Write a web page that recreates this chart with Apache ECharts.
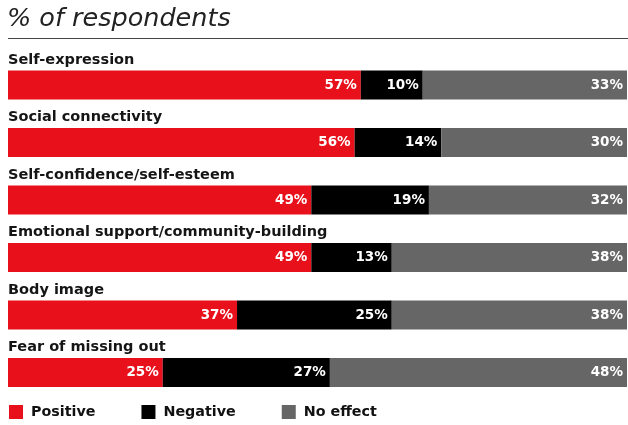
<!DOCTYPE html>
<html><head><meta charset="utf-8">
<script src="https://cdn.jsdelivr.net/npm/echarts@6/dist/echarts.min.js"></script>
<style>html,body{margin:0;padding:0;background:#fff}#c{width:628px;height:425px}</style>
</head><body><div id="c"></div>
<script>
const categories = ['Self-expression','Social connectivity','Self-confidence/self-esteem','Emotional support/community-building','Body image','Fear of missing out'];
const positive = [57,56,49,49,37,25];
const negative = [10,14,19,13,25,27];
const noEffect = [33,30,32,38,38,48];
const seriesNames = ['Positive','Negative','No effect'];
const colors = ['#E8111B','#000000','#666666'];
const FONT = '"DejaVu Sans"';
const chart = echarts.init(document.getElementById('c'));
const lbl = {show:true, position:'insideRight', color:'#fff', fontFamily:FONT, fontWeight:'bold', fontSize:13.5, distance:4, formatter:p=>p.value+'%'};
const mk = (name, data, i) => ({name, type:'bar', stack:'all', data, barWidth:29, itemStyle:{color:colors[i]}, label:lbl, emphasis:{disabled:true}});
chart.setOption({
  animation:false,
  graphic:[
    {type:'text', left:7, top:6, style:{text:'% of respondents', font:'italic 200 25.5px '+FONT, fill:'#222'}},
    {type:'line', shape:{x1:8,y1:38.5,x2:628,y2:38.5}, style:{stroke:'#444', lineWidth:1}}
  ],
  legend:{left:4, top:400, itemWidth:14, itemHeight:14, itemGap:46, icon:'rect',
    textStyle:{fontFamily:FONT, fontSize:14.3, fontWeight:'bold', color:'#111', padding:[0,0,0,3]},
    data:seriesNames, selectedMode:false},
  grid:{left:8, right:1, top:56.25, bottom:23.75, containLabel:false},
  xAxis:{type:'value', min:0, max:100, show:false},
  yAxis:{type:'category', data:categories, inverse:true,
    axisLine:{show:false}, axisTick:{show:false}, splitLine:{show:false},
    axisLabel:{inside:true, margin:0, align:'left', verticalAlign:'bottom', padding:[0,0,17.5,0],
      fontFamily:FONT, fontWeight:'bold', fontSize:14.5, color:'#151515'}},
  series:[mk(seriesNames[0],positive,0), mk(seriesNames[1],negative,1), mk(seriesNames[2],noEffect,2)]
});
</script></body></html>
